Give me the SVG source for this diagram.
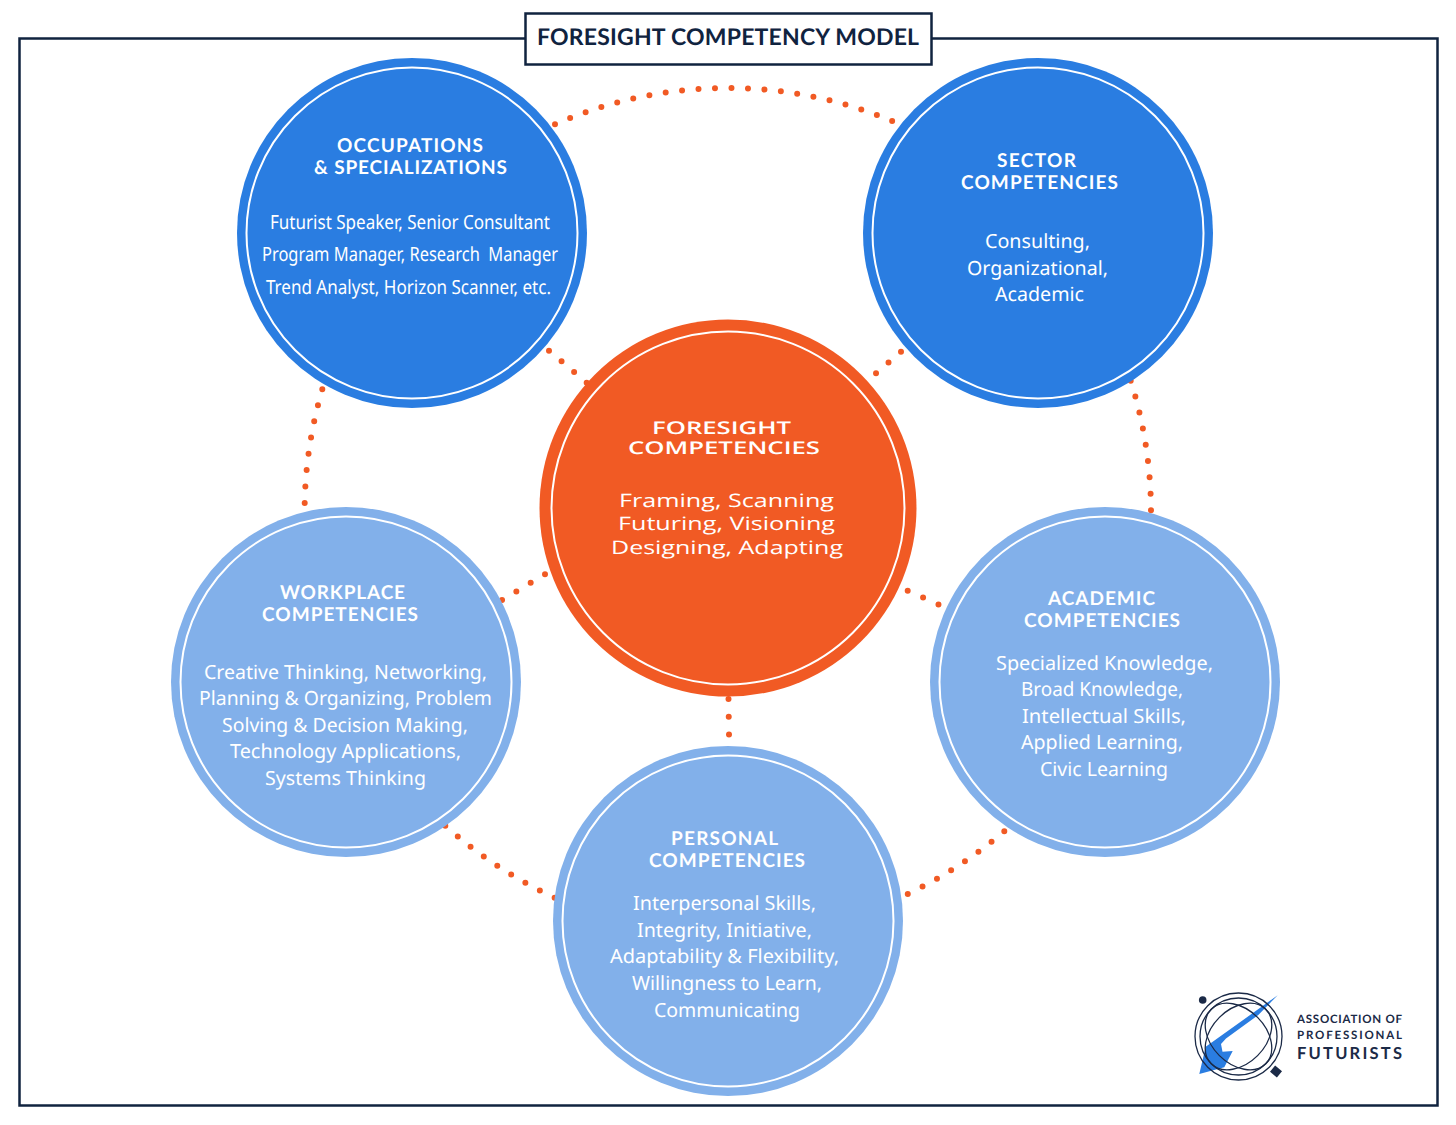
<svg xmlns="http://www.w3.org/2000/svg" width="1456" height="1125" viewBox="0 0 1456 1125">
<style>
text{font-family:"Lato","Liberation Sans",sans-serif;fill:#fff;text-rendering:geometricPrecision;font-variant-ligatures:none}
.h{font-size:19px;font-weight:700}
.b{font-size:19.500px;font-weight:400;font-family:"Noto Sans","Liberation Sans",sans-serif}
.c{font-size:18.500px;font-weight:400;font-family:"Open Sans","Liberation Sans",sans-serif}
.ch{font-size:17.500px;font-weight:600;font-family:"Open Sans","Liberation Sans",sans-serif}
.ring{fill:none;stroke:#fff;stroke-width:2}
.dark{fill:#1b2a47;font-weight:700}
.dot{fill:none;stroke:#f15a24;stroke-width:6;stroke-linecap:round;stroke-dasharray:0 1}
.logoline{fill:none;stroke:#1b2a47;stroke-width:1.300}
</style>
<rect width="1456" height="1125" fill="#fff"/>
<rect id="frame" x="19.500" y="38.500" width="1418" height="1067" fill="none" stroke="#10233f" stroke-width="2.500"/>
<g id="title"><rect x="525.500" y="13.500" width="406" height="51" fill="#fff" stroke="#10233f" stroke-width="2.500"/>
<text class="dark" x="537" y="45" font-size="23" textLength="382" style="fill:#10233f">FORESIGHT COMPETENCY MODEL</text></g>
<g id="connectors">
<path class="dot" pathLength="21.010" d="M555 124.300A428 428 0 0 1 892.300 121"/>
<path class="dot" pathLength="7.005" d="M322.300 389.300Q305.900 445.200 304.700 503"/>
<path class="dot" pathLength="8.005" d="M1130.700 380.700Q1150.600 443.900 1151 510.300"/>
<path class="dot" pathLength="8.005" d="M445.300 825.700Q495.300 870.300 554.700 897.700"/>
<path class="dot" pathLength="7.005" d="M1004.300 831.300Q960 869 907.700 894"/>
<path class="dot" pathLength="3.002" d="M549 350.700L586.700 382.700"/>
<path class="dot" pathLength="2.002" d="M901 351.700L876 373.300"/>
<path class="dot" pathLength="3.002" d="M545 574.300L502 600"/>
<path class="dot" pathLength="2.002" d="M907.700 590.700L938.500 604.500"/>
<path class="dot" pathLength="2.002" d="M728.500 699L729 734.500"/>
</g>
<g id="occupations"><circle cx="412" cy="233" r="175" fill="#2a7de1"/><circle class="ring" cx="412" cy="233" r="165.500"/>
<text class="h" x="337" y="151.500" textLength="146">OCCUPATIONS</text>
<text class="h" x="314" y="173.500" textLength="193">&amp; SPECIALIZATIONS</text>
<text class="b" x="270" y="228.500" textLength="280" lengthAdjust="spacingAndGlyphs">Futurist Speaker, Senior Consultant</text>
<text class="b" x="262" y="260.500" textLength="296" lengthAdjust="spacingAndGlyphs" xml:space="preserve">Program Manager, Research  Manager</text>
<text class="b" x="266" y="293.500" textLength="285" lengthAdjust="spacingAndGlyphs">Trend Analyst, Horizon Scanner, etc.</text></g>
<g id="sector"><circle cx="1038" cy="233" r="175" fill="#2a7de1"/><circle class="ring" cx="1038" cy="233" r="165.500"/>
<text class="h" x="997" y="166.500" textLength="79">SECTOR</text>
<text class="h" x="961" y="188.500" textLength="157">COMPETENCIES</text>
<text class="b" x="985" y="247.500" textLength="105" lengthAdjust="spacingAndGlyphs">Consulting,</text>
<text class="b" x="967" y="274.500" textLength="141" lengthAdjust="spacingAndGlyphs">Organizational,</text>
<text class="b" x="995" y="300.500" textLength="89" lengthAdjust="spacingAndGlyphs">Academic</text></g>
<g id="foresight"><circle cx="728" cy="508" r="188.500" fill="#f15a24"/><circle class="ring" cx="728" cy="508" r="176.500"/>
<text class="ch" x="652" y="433.500" textLength="139" lengthAdjust="spacingAndGlyphs">FORESIGHT</text>
<text class="ch" x="628" y="454" textLength="192" lengthAdjust="spacingAndGlyphs">COMPETENCIES</text>
<text class="c" x="619" y="507" textLength="215" lengthAdjust="spacingAndGlyphs">Framing, Scanning</text>
<text class="c" x="618" y="530" textLength="217" lengthAdjust="spacingAndGlyphs">Futuring, Visioning</text>
<text class="c" x="611" y="554" textLength="232" lengthAdjust="spacingAndGlyphs">Designing, Adapting</text></g>
<g id="workplace"><circle cx="346" cy="682" r="175" fill="#82b0ea"/><circle class="ring" cx="346" cy="682" r="165.500"/>
<text class="h" x="280" y="598.500" textLength="125">WORKPLACE</text>
<text class="h" x="262" y="620.500" textLength="156">COMPETENCIES</text>
<text class="b" x="204" y="678.500" textLength="283" lengthAdjust="spacingAndGlyphs">Creative Thinking, Networking,</text>
<text class="b" x="199" y="704.500" textLength="293" lengthAdjust="spacingAndGlyphs">Planning &amp; Organizing, Problem</text>
<text class="b" x="222" y="731.500" textLength="246" lengthAdjust="spacingAndGlyphs">Solving &amp; Decision Making,</text>
<text class="b" x="230" y="757.500" textLength="231" lengthAdjust="spacingAndGlyphs">Technology Applications,</text>
<text class="b" x="265" y="784.500" textLength="161" lengthAdjust="spacingAndGlyphs">Systems Thinking</text></g>
<g id="academic"><circle cx="1105" cy="682" r="175" fill="#82b0ea"/><circle class="ring" cx="1105" cy="682" r="165.500"/>
<text class="h" x="1048" y="604.500" textLength="107">ACADEMIC</text>
<text class="h" x="1024" y="626.500" textLength="156">COMPETENCIES</text>
<text class="b" x="996" y="669.500" textLength="217" lengthAdjust="spacingAndGlyphs">Specialized Knowledge,</text>
<text class="b" x="1021" y="695.500" textLength="162" lengthAdjust="spacingAndGlyphs">Broad Knowledge,</text>
<text class="b" x="1022" y="722.500" textLength="164" lengthAdjust="spacingAndGlyphs">Intellectual Skills,</text>
<text class="b" x="1021" y="748.500" textLength="162" lengthAdjust="spacingAndGlyphs">Applied Learning,</text>
<text class="b" x="1040" y="775.500" textLength="128" lengthAdjust="spacingAndGlyphs">Civic Learning</text></g>
<g id="personal"><circle cx="728" cy="921" r="175" fill="#82b0ea"/><circle class="ring" cx="728" cy="921" r="165.500"/>
<text class="h" x="671" y="844.500" textLength="107">PERSONAL</text>
<text class="h" x="649" y="866.500" textLength="156">COMPETENCIES</text>
<text class="b" x="633" y="909.500" textLength="183" lengthAdjust="spacingAndGlyphs">Interpersonal Skills,</text>
<text class="b" x="637" y="936.500" textLength="175" lengthAdjust="spacingAndGlyphs">Integrity, Initiative,</text>
<text class="b" x="610" y="962.500" textLength="229" lengthAdjust="spacingAndGlyphs">Adaptability &amp; Flexibility,</text>
<text class="b" x="632" y="989.500" textLength="190" lengthAdjust="spacingAndGlyphs">Willingness to Learn,</text>
<text class="b" x="654" y="1016.500" textLength="146" lengthAdjust="spacingAndGlyphs">Communicating</text></g>
<g id="logo">
<path d="M1277.700 995.300L1205.700 1046.700L1199.300 1074L1224.300 1067.300L1232.700 1051L1222.500 1051.700L1221 1044L1226 1038.500L1258.300 1015Z" fill="#2a7de1"/>
<circle class="logoline" cx="1238.500" cy="1036.500" r="43.500"/><circle class="logoline" cx="1238.500" cy="1036.500" r="38.500"/>
<ellipse class="logoline" cx="1238.500" cy="1036.500" rx="38.500" ry="27" transform="rotate(45 1238.500 1036.500)"/>
<ellipse class="logoline" cx="1238.500" cy="1036.500" rx="38.500" ry="27" transform="rotate(-45 1238.500 1036.500)"/>
<circle cx="1202.700" cy="1000" r="3.800" fill="#1b2a47"/>
<rect x="1271.500" y="1067.500" width="9" height="8" transform="rotate(40 1276 1071.500)" fill="#1b2a47"/>
<text class="dark" x="1297" y="1023" font-size="11.500" textLength="105">ASSOCIATION OF</text>
<text class="dark" x="1297" y="1039" font-size="11.500" textLength="105">PROFESSIONAL</text>
<text class="dark" x="1297" y="1059" font-size="16.500" textLength="105">FUTURISTS</text>
</g>
</svg>
